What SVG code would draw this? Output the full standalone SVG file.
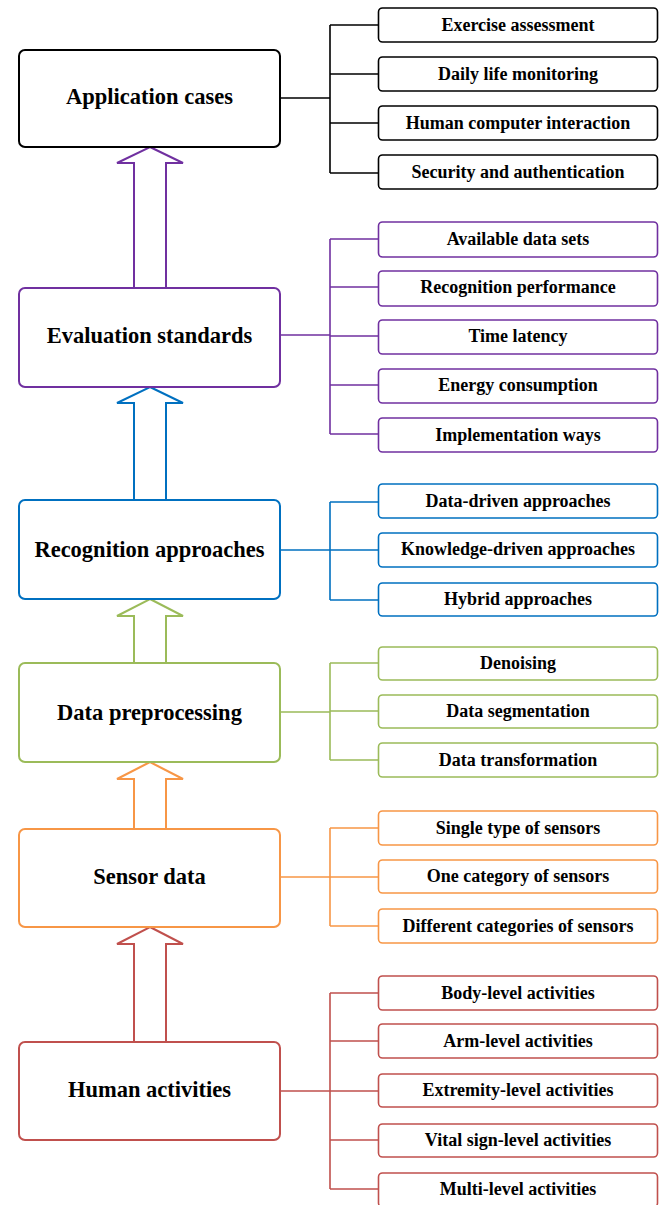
<svg xmlns="http://www.w3.org/2000/svg" width="661" height="1205" viewBox="0 0 661 1205">
<style>
.main{fill:#fff;stroke-width:2}
.sub{fill:#fff;stroke-width:1.6}
.arr{fill:#fff;stroke-width:2;stroke-linejoin:miter}
.con{fill:none;stroke-width:1.6}
.mt{font-family:"Liberation Serif","Times New Roman",serif;font-weight:bold;font-size:22.5px;text-anchor:middle;fill:#000}
.st{font-family:"Liberation Serif","Times New Roman",serif;font-weight:bold;font-size:18px;text-anchor:middle;fill:#000}
.k{stroke:#000}.p{stroke:#7030A0}.b{stroke:#0070C0}.g{stroke:#9BBB59}.o{stroke:#F79646}.r{stroke:#C0504D}
</style>
<rect width="661" height="1205" fill="#fff"/>
<g id="connectors">
<path class="con k" d="M280 98H330M330 25V173M330 25H378M330 74H378M330 123H378M330 173H378"/>
<path class="con p" d="M280 335H330M330 239V434M330 239H378M330 287H378M330 336H378M330 385H378M330 434H378"/>
<path class="con b" d="M280 550H330M330 502V600M330 502H378M330 550H378M330 600H378"/>
<path class="con g" d="M280 712H330M330 663V760M330 663H378M330 711H378M330 760H378"/>
<path class="con o" d="M280 877H330M330 828V926M330 828H378M330 877H378M330 926H378"/>
<path class="con r" d="M280 1091H330M330 993V1189M330 993H378M330 1041H378M330 1091H378M330 1140H378M330 1189H378"/>
<polygon class="arr p" points="150,147 183,163 166,163 166,288 134,288 134,163 117,163"/>
<polygon class="arr b" points="150,387 183,403 166,403 166,500 134,500 134,403 117,403"/>
<polygon class="arr g" points="150,599 183,616 166,616 166,663 134,663 134,616 117,616"/>
<polygon class="arr o" points="150,762 183,779 166,779 166,829 134,829 134,779 117,779"/>
<polygon class="arr r" points="150,927 183,944 166,944 166,1042 134,1042 134,944 117,944"/>
</g>
<g id="application-cases"><rect class="main k" x="19" y="50" width="261" height="97" rx="6"/><text class="mt" x="149.5" y="104">Application cases</text></g>
<g id="exercise-assessment"><rect class="sub k" x="378.5" y="8" width="279" height="34" rx="4"/><text class="st" x="518" y="31">Exercise assessment</text></g>
<g id="daily-life"><rect class="sub k" x="378.5" y="57" width="279" height="34" rx="4"/><text class="st" x="518" y="80">Daily life monitoring</text></g>
<g id="hci"><rect class="sub k" x="378.5" y="106" width="279" height="34" rx="4"/><text class="st" x="518" y="129">Human computer interaction</text></g>
<g id="security"><rect class="sub k" x="378.5" y="155" width="279" height="34" rx="4"/><text class="st" x="518" y="178">Security and authentication</text></g>

<g id="evaluation-standards"><rect class="main p" x="19" y="288" width="261" height="99" rx="6"/><text class="mt" x="149.5" y="343">Evaluation standards</text></g>
<g id="available-data-sets"><rect class="sub p" x="378.5" y="222" width="279" height="35" rx="4"/><text class="st" x="518" y="245">Available data sets</text></g>
<g id="recognition-performance"><rect class="sub p" x="378.5" y="271" width="279" height="35" rx="4"/><text class="st" x="518" y="293">Recognition performance</text></g>
<g id="time-latency"><rect class="sub p" x="378.5" y="320" width="279" height="34" rx="4"/><text class="st" x="518" y="342">Time latency</text></g>
<g id="energy-consumption"><rect class="sub p" x="378.5" y="369" width="279" height="34" rx="4"/><text class="st" x="518" y="391">Energy consumption</text></g>
<g id="implementation-ways"><rect class="sub p" x="378.5" y="418" width="279" height="34" rx="4"/><text class="st" x="518" y="441">Implementation ways</text></g>

<g id="recognition-approaches"><rect class="main b" x="19" y="500" width="261" height="99" rx="6"/><text class="mt" x="149.5" y="557">Recognition approaches</text></g>
<g id="data-driven"><rect class="sub b" x="378.5" y="484" width="279" height="34" rx="4"/><text class="st" x="518" y="507">Data-driven approaches</text></g>
<g id="knowledge-driven"><rect class="sub b" x="378.5" y="533" width="279" height="34" rx="4"/><text class="st" x="518" y="555">Knowledge-driven approaches</text></g>
<g id="hybrid"><rect class="sub b" x="378.5" y="583" width="279" height="33" rx="4"/><text class="st" x="518" y="605">Hybrid approaches</text></g>

<g id="data-preprocessing"><rect class="main g" x="19" y="663" width="261" height="99" rx="6"/><text class="mt" x="149.5" y="720">Data preprocessing</text></g>
<g id="denoising"><rect class="sub g" x="378.5" y="647" width="279" height="33" rx="4"/><text class="st" x="518" y="669">Denoising</text></g>
<g id="data-segmentation"><rect class="sub g" x="378.5" y="695" width="279" height="33" rx="4"/><text class="st" x="518" y="717">Data segmentation</text></g>
<g id="data-transformation"><rect class="sub g" x="378.5" y="743" width="279" height="34" rx="4"/><text class="st" x="518" y="766">Data transformation</text></g>

<g id="sensor-data"><rect class="main o" x="19" y="829" width="261" height="98" rx="6"/><text class="mt" x="149.5" y="884">Sensor data</text></g>
<g id="single-type"><rect class="sub o" x="378.5" y="811" width="279" height="34" rx="4"/><text class="st" x="518" y="834">Single type of sensors</text></g>
<g id="one-category"><rect class="sub o" x="378.5" y="860" width="279" height="33" rx="4"/><text class="st" x="518" y="882">One category of sensors</text></g>
<g id="different-categories"><rect class="sub o" x="378.5" y="909" width="279" height="34" rx="4"/><text class="st" x="518" y="932">Different categories of sensors</text></g>

<g id="human-activities"><rect class="main r" x="19" y="1042" width="261" height="98" rx="6"/><text class="mt" x="149.5" y="1097">Human activities</text></g>
<g id="body-level"><rect class="sub r" x="378.5" y="976" width="279" height="34" rx="4"/><text class="st" x="518" y="999">Body-level activities</text></g>
<g id="arm-level"><rect class="sub r" x="378.5" y="1024" width="279" height="34" rx="4"/><text class="st" x="518" y="1047">Arm-level activities</text></g>
<g id="extremity-level"><rect class="sub r" x="378.5" y="1074" width="279" height="33" rx="4"/><text class="st" x="518" y="1096">Extremity-level activities</text></g>
<g id="vital-sign-level"><rect class="sub r" x="378.5" y="1124" width="279" height="33" rx="4"/><text class="st" x="518" y="1146">Vital sign-level activities</text></g>
<g id="multi-level"><rect class="sub r" x="378.5" y="1173" width="279" height="34" rx="4"/><text class="st" x="518" y="1195">Multi-level activities</text></g>
</svg>
